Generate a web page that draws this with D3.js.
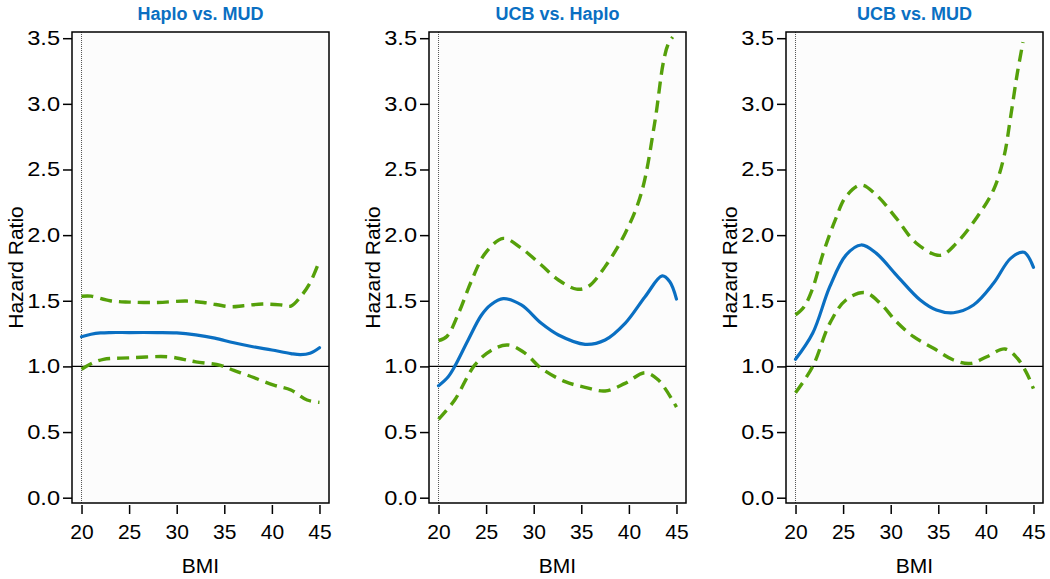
<!DOCTYPE html>
<html><head><meta charset="utf-8">
<script src="https://cdn.jsdelivr.net/npm/d3@7"></script>
<style>html,body{margin:0;padding:0;background:#fff;}svg{display:block;}</style>
</head><body>
<svg id="chart" width="1050" height="579"></svg>
<script>
// ---------- data ----------
const titles = ["Haplo vs. MUD", "UCB vs. Haplo", "UCB vs. MUD"];
const yTicks = [0.0, 0.5, 1.0, 1.5, 2.0, 2.5, 3.0, 3.5];
const xTicks = [20, 25, 30, 35, 40, 45];
const xLabel = "BMI";
const yLabel = "Hazard Ratio";

// Panel 1: Haplo vs. MUD
const p1EstBmi = [20, 21, 22, 23, 25, 28, 30, 32, 34, 36, 38, 40, 42, 43, 44, 45];
const p1Est    = [1.226, 1.245, 1.255, 1.258, 1.258, 1.258, 1.255, 1.24, 1.215, 1.18, 1.15, 1.125, 1.098, 1.09, 1.1, 1.142];
const p1UpBmi  = [20, 21, 23, 25, 28, 31, 33, 35.6, 37, 39, 41, 42, 43, 44, 45];
const p1Up     = [1.534, 1.535, 1.50, 1.49, 1.487, 1.498, 1.485, 1.455, 1.462, 1.475, 1.468, 1.46, 1.53, 1.635, 1.805];
const p1LoBmi  = [20, 21, 22.3, 25, 29, 30.7, 32, 34.6, 36, 37.4, 40.2, 42, 43.7, 45];
const p1Lo     = [0.978, 1.02, 1.054, 1.065, 1.074, 1.054, 1.035, 1.008, 0.97, 0.934, 0.858, 0.82, 0.744, 0.726];

// Panel 2: UCB vs. Haplo
const p2EstBmi = [20, 21, 21.7, 23.1, 24.5, 25.5, 26.8, 28.7, 30.8, 32.6, 35.4, 37.5, 39.6, 41.7, 43.5, 44.3, 45];
const p2Est    = [0.853, 0.92, 1.0, 1.2, 1.39, 1.47, 1.516, 1.468, 1.328, 1.239, 1.168, 1.201, 1.328, 1.531, 1.689, 1.645, 1.513];
const p2UpBmi  = [20, 20.9, 22.1, 23.5, 24.9, 26.8, 28.7, 30.8, 32.6, 34.5, 35.7, 37.5, 39.6, 41.3, 42.7, 43.6, 44.1, 44.6];
const p2Up     = [1.196, 1.23, 1.404, 1.658, 1.861, 1.975, 1.9, 1.772, 1.658, 1.589, 1.607, 1.76, 2.013, 2.318, 2.85, 3.308, 3.45, 3.51];
const p2LoBmi  = [20, 21.7, 23.8, 25.6, 27.3, 29.1, 30.8, 33.3, 35.4, 37.5, 39.6, 41.7, 43.1, 45];
const p2Lo     = [0.597, 0.744, 1.01, 1.125, 1.163, 1.1, 0.985, 0.884, 0.841, 0.813, 0.871, 0.952, 0.896, 0.69];

// Panel 3: UCB vs. MUD
const p3EstBmi = [20, 21.8, 23.6, 25.3, 26.9, 28.5, 30.6, 33.1, 34.8, 36.6, 38.7, 40.8, 42.6, 44, 45];
const p3Est    = [1.054, 1.252, 1.607, 1.848, 1.925, 1.861, 1.696, 1.506, 1.43, 1.409, 1.468, 1.633, 1.823, 1.869, 1.755];
const p3UpBmi  = [20, 20.9, 21.8, 22.9, 24.2, 25.3, 26.9, 28.5, 30.6, 32.7, 35.2, 36.9, 39.1, 40.8, 41.9, 42.6, 43.3, 43.9];
const p3Up     = [1.392, 1.455, 1.595, 1.861, 2.12, 2.293, 2.382, 2.305, 2.128, 1.938, 1.846, 1.938, 2.14, 2.344, 2.597, 2.902, 3.232, 3.47];
const p3LoBmi  = [20, 21.8, 23.6, 25.3, 27.3, 28.9, 30.6, 32.4, 34.5, 36.6, 38.4, 40.1, 42, 43.3, 44.3, 45];
const p3Lo     = [0.8, 0.998, 1.328, 1.506, 1.562, 1.481, 1.341, 1.226, 1.138, 1.049, 1.023, 1.074, 1.133, 1.062, 0.947, 0.83];

const refLineY = 1.0;   // horizontal reference
const refLineX = 20;    // vertical dotted reference

const panels = [
  {title: titles[0], est: [p1EstBmi, p1Est], up: [p1UpBmi, p1Up], lo: [p1LoBmi, p1Lo]},
  {title: titles[1], est: [p2EstBmi, p2Est], up: [p2UpBmi, p2Up], lo: [p2LoBmi, p2Lo]},
  {title: titles[2], est: [p3EstBmi, p3Est], up: [p3UpBmi, p3Up], lo: [p3LoBmi, p3Lo]}
];

// ---------- layout ----------
const boxLefts = [72, 429, 786];
const boxW = 257, boxTop = 32, boxBottom = 503;
const blue = "#0a6fc2", green = "#55a00a";
const font = "'Liberation Sans', Arial, sans-serif";

const svg = d3.select("#chart");

const y = d3.scaleLinear().domain([0, 3.5]).range([497.7, 38.2]);

panels.forEach((p, i) => {
  const L = boxLefts[i];
  const x = d3.scaleLinear().domain([19, 46]).range([L, L + boxW]);
  const g = svg.append("g");

  const clipId = "clip" + i;
  svg.append("clipPath").attr("id", clipId).append("rect")
    .attr("x", L).attr("y", boxTop).attr("width", boxW).attr("height", boxBottom - boxTop);

  g.append("rect").attr("x", L).attr("y", boxTop).attr("width", boxW).attr("height", boxBottom - boxTop)
    .attr("fill", "#fcfcfc");

  // vertical dotted reference
  g.append("line").attr("x1", x(refLineX)).attr("x2", x(refLineX))
    .attr("y1", boxTop).attr("y2", boxBottom)
    .attr("stroke", "#555").attr("stroke-width", 1).attr("stroke-dasharray", "1,1");

  // horizontal reference
  g.append("line").attr("x1", L).attr("x2", L + boxW)
    .attr("y1", y(refLineY)).attr("y2", y(refLineY))
    .attr("stroke", "#000").attr("stroke-width", 1.3);

  const line = d3.line().x(d => x(d[0])).y(d => y(d[1])).curve(d3.curveCatmullRom.alpha(0.5));
  const pts = arr => arr[0].map((b, k) => [b, arr[1][k]]);

  const cg = g.append("g").attr("clip-path", `url(#${clipId})`);
  cg.append("path").attr("d", line(pts(p.up))).attr("fill", "none")
    .attr("stroke", green).attr("stroke-width", 3.4).attr("stroke-dasharray", "12,7");
  cg.append("path").attr("d", line(pts(p.lo))).attr("fill", "none")
    .attr("stroke", green).attr("stroke-width", 3.4).attr("stroke-dasharray", "12,7");
  cg.append("path").attr("d", line(pts(p.est))).attr("fill", "none")
    .attr("stroke", blue).attr("stroke-width", 3.2).attr("stroke-linecap", "round");

  // box border
  g.append("rect").attr("x", L).attr("y", boxTop).attr("width", boxW).attr("height", boxBottom - boxTop)
    .attr("fill", "none").attr("stroke", "#000").attr("stroke-width", 1.5);

  // y axis
  const yAxis = d3.axisLeft(y).tickValues(yTicks).tickFormat(d3.format(".1f")).tickSize(9).tickPadding(3);
  const ya = g.append("g").attr("transform", `translate(${L},0)`).call(yAxis);
  ya.select(".domain").remove();
  ya.selectAll(".tick line").attr("stroke", "#000").attr("stroke-width", 1.5);
  ya.selectAll(".tick text").attr("font-family", font).attr("font-size", 20).attr("fill", "#000")
    .attr("x", 0).attr("transform", "translate(-12,0) scale(1.18,1)");

  // x axis
  const xAxis = d3.axisBottom(x).tickValues(xTicks).tickFormat(d3.format("d")).tickSize(9).tickPadding(10);
  const xa = g.append("g").attr("transform", `translate(0,${boxBottom + 2})`).call(xAxis);
  xa.select(".domain").remove();
  xa.selectAll(".tick line").attr("stroke", "#000").attr("stroke-width", 1.5);
  xa.selectAll(".tick text").attr("font-family", font).attr("font-size", 21).attr("fill", "#000");

  // title
  g.append("text").attr("x", L + boxW / 2).attr("y", 20).attr("text-anchor", "middle")
    .attr("font-family", font).attr("font-weight", "bold").attr("font-size", 18)
    .attr("fill", blue).text(p.title);

  // x label
  g.append("text").attr("x", L + boxW / 2).attr("y", 573).attr("text-anchor", "middle")
    .attr("font-family", font).attr("font-size", 21).attr("fill", "#000").text(xLabel);

  // y label
  g.append("text").attr("transform", `translate(${L - 49},${(boxTop + boxBottom) / 2}) rotate(-90)`)
    .attr("text-anchor", "middle").attr("font-family", font).attr("font-size", 21)
    .attr("fill", "#000").text(yLabel);
});
</script>
</body></html>
